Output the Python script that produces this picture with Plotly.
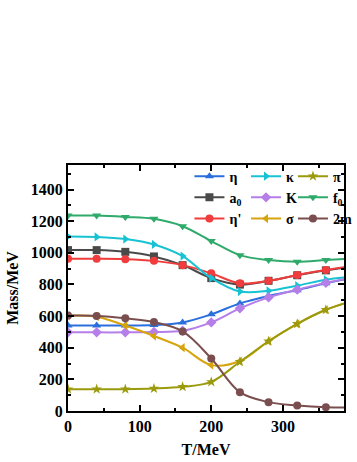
import plotly.graph_objects as go

# temperature grid (MeV)
T = [0, 40, 80, 120, 160, 200, 240, 280, 320, 360, 400]

# masses (MeV)
eta = [540, 540, 540, 543, 560, 611, 680, 727, 764, 807, 845]
a0 = [1017, 1017, 1006, 977, 922, 840, 799, 823, 858, 889, 915]
eta_p = [962, 962, 960, 949, 922, 870, 807, 823, 860, 891, 918]
kappa = [1103, 1100, 1087, 1053, 979, 840, 755, 760, 792, 830, 850]
kaon = [497, 497, 497, 499, 507, 560, 649, 718, 767, 810, 845]
sigma = [602, 596, 540, 474, 400, 290, 316, 441, 551, 640, 700]
pion = [138, 138, 138, 142, 153, 184, 311, 441, 551, 640, 700]
f0 = [1235, 1235, 1227, 1215, 1168, 1074, 985, 954, 943, 954, 965]
two_m = [603, 601, 586, 562, 503, 332, 119, 56, 35, 24, 22]

series = [
    # name, values, colour, symbol, legend
    ("η", eta, "#2a6fdb", "triangle-up", "legend"),
    ("a<sub>0</sub>", a0, "#4a4a4a", "square", "legend"),
    ("η'", eta_p, "#f03c3c", "circle", "legend"),
    ("κ", kappa, "#17c3d3", "triangle-right", "legend2"),
    ("K", kaon, "#b57ee8", "diamond", "legend2"),
    ("σ", sigma, "#d6a40c", "triangle-left", "legend2"),
    ("π", pion, "#9a9a0c", "star", "legend3"),
    ("f<sub>0</sub>", f0, "#2faa6a", "triangle-down", "legend3"),
    ("2m", two_m, "#7a4e4e", "circle", "legend3"),
]

fig = go.Figure()
for name, vals, col, sym, leg in series:
    fig.add_trace(go.Scatter(
        x=T, y=vals, name=name, mode="lines+markers",
        line=dict(color=col, width=2, shape="spline", smoothing=1),
        marker=dict(color=col, symbol=sym, size=8),
        legend=leg, cliponaxis=True))

serif = "Liberation Serif"
legfont = dict(family=serif, size=14, color="black", weight="bold")
leg_common = dict(y=1.018, yanchor="top", bgcolor="rgba(0,0,0,0)",
                  font=legfont, tracegroupgap=0, itemwidth=30)

fig.update_layout(
    width=357, height=462,
    margin=dict(l=68, r=0, t=165, b=51),
    plot_bgcolor="white", paper_bgcolor="white",
    font=dict(family=serif, size=16, color="black"),
    legend=dict(x=0.44, xanchor="left", **leg_common),
    legend2=dict(x=0.645, xanchor="left", **leg_common),
    legend3=dict(x=0.815, xanchor="left", **leg_common),
)
axis_font = dict(family=serif, size=16, color="black", weight="bold")
fig.update_xaxes(
    range=[0, 385.3], tickvals=[0, 100, 200, 300, 400],
    ticks="inside", ticklen=6, tickwidth=2, tickcolor="black",
    minor=dict(ticks="inside", ticklen=3, tickwidth=1.5, dtick=50, tickcolor="black"),
    showline=True, linecolor="black", linewidth=2, mirror="ticks",
    showgrid=False, zeroline=False, automargin=False,
    tickfont=axis_font,
    title=dict(text="T/MeV", standoff=10, font=axis_font),
)
fig.update_yaxes(
    range=[0, 1555], tickvals=[0, 200, 400, 600, 800, 1000, 1200, 1400],
    ticks="inside", ticklen=6, tickwidth=2, tickcolor="black",
    minor=dict(ticks="inside", ticklen=3, tickwidth=1.5, dtick=100, tickcolor="black"),
    showline=True, linecolor="black", linewidth=2, mirror="ticks",
    showgrid=False, zeroline=False, automargin=False,
    tickfont=axis_font,
    title=dict(text="Mass/MeV", standoff=8, font=axis_font),
)

# drop the default body margin so the figure fills the window
fig.write_html("out.html", config={"displayModeBar": False},
               post_script="document.body.style.margin='0';")
